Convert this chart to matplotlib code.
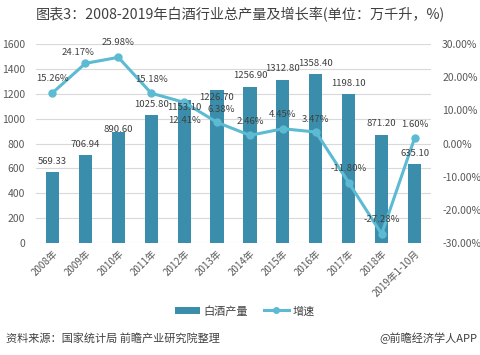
import matplotlib
matplotlib.use("Agg")
import matplotlib.pyplot as plt
from matplotlib.lines import Line2D
from matplotlib.patches import Patch

plt.rcParams['font.family'] = ['Noto Sans CJK SC', 'DejaVu Sans']

categories = ["2008年", "2009年", "2010年", "2011年", "2012年", "2013年", "2014年",
              "2015年", "2016年", "2017年", "2018年", "2019年1-10月"]
production = [569.33, 706.94, 890.60, 1025.80, 1153.10, 1226.70, 1256.90,
              1312.80, 1358.40, 1198.10, 871.20, 635.10]
growth = [15.26, 24.17, 25.98, 15.18, 12.41, 6.38, 2.46, 4.45, 3.47, -11.80, -27.28, 1.60]

bar_label_offsets = [11, 11, 3, 11, -8, -7, 11, 11, 11, 11, 11, 11]
pct_label_offsets = [14, 11, 15, 14, -18, 13, 14, 14, 13, 14, 14, 14]
pct_label_dx = [0, -7, 0, 0, 0, 4, 0, 0, 0, 0, 0, 0]

BAR = '#3A8EAB'
LINE = '#5CBBD2'
TXT = '#404040'
TICK = '#595959'

fig = plt.figure(figsize=(4.8, 3.55), dpi=100)
ax = fig.add_axes([0.075, 0.3155, 0.823, 0.5605])
x = list(range(len(categories)))
ax.bar(x, production, width=0.4, color=BAR, zorder=2)
ax.set_xlim(-0.5, len(categories) - 0.5)
ax.set_ylim(0, 1600)
ax.set_yticks(range(0, 1601, 200))
ax.grid(axis='y', color='#D9D9D9', linewidth=0.8, zorder=0)
ax.set_axisbelow(True)
for s in ax.spines.values():
    s.set_visible(False)
ax.tick_params(axis='both', length=0, labelsize=7.5, colors=TICK)
ax.tick_params(axis='y', pad=8)
ax.set_xticks(x)
ax.set_xticklabels(categories, rotation=45, ha='right', rotation_mode='anchor', fontsize=7)
ax.tick_params(axis='x', pad=4)

ax2 = ax.twinx()
ax2.set_ylim(-30, 30)
ax2.set_yticks(range(-30, 31, 10))
ax2.set_yticklabels([f"{t:.2f}%" for t in range(-30, 31, 10)])
for s in ax2.spines.values():
    s.set_visible(False)
ax2.tick_params(axis='y', length=0, labelsize=7.5, colors=TICK, pad=8)
ax2.plot(x, growth, color=LINE, linewidth=2.2, marker='o', markersize=5, zorder=3)

for xi, v, off in zip(x, production, bar_label_offsets):
    ax2.annotate(f"{v:.2f}", (xi, v), xycoords=ax.transData, xytext=(0, off * 0.72),
                 textcoords='offset points', ha='center', va='center', fontsize=6.9,
                 color=TXT, zorder=5)
for xi, v, off, dx in zip(x, growth, pct_label_offsets, pct_label_dx):
    ax2.annotate(f"{v:.2f}%", (xi, v), xytext=(dx * 0.72, off * 0.72), textcoords='offset points',
                 ha='center', va='center', fontsize=6.9, color=TXT, zorder=5)

fig.text(0.5, 0.958, "图表3：2008-2019年白酒行业总产量及增长率(单位：万千升，%)",
         ha='center', va='center', fontsize=10.2, color=TXT)

handles = [Patch(facecolor=BAR, edgecolor='none'),
           Line2D([0], [0], color=LINE, linewidth=2.2, marker='o', markersize=4)]
fig.legend(handles, ["白酒产量", "增速"], loc='center', bbox_to_anchor=(0.51, 0.124),
           ncol=2, frameon=False, fontsize=8, handlelength=2.2, handletextpad=0.3,
           columnspacing=1.5, labelcolor=TXT)

fig.text(0.012, 0.048, "资料来源：国家统计局 前瞻产业研究院整理", ha='left', va='center',
         fontsize=8, color=TXT)
fig.text(0.995, 0.048, "@前瞻经济学人APP", ha='right', va='center', fontsize=8, color=TXT)

fig.savefig("out.png", dpi=100)
